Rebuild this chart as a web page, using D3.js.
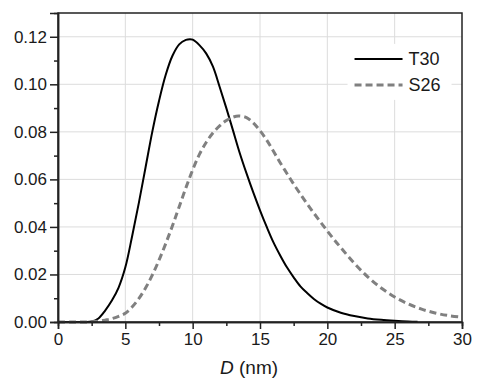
<!DOCTYPE html>
<meta charset="utf-8">
<script src="https://d3js.org/d3.v7.min.js"></script>
<style>
body { margin: 0; background: #fff; }
text { font-family: "Liberation Sans", Arial, Helvetica, sans-serif; fill: #1a1a1a; }
</style>
<div id="chart"></div>
<script>
// diameter (nm) and distribution values
const t30D = [0, 1, 2, 2.5, 3, 3.5, 4, 4.5, 5, 5.5, 6, 6.5, 7, 7.5, 8, 8.5, 9, 9.5, 9.8, 10, 10.5, 11, 11.5, 12, 12.5, 13, 13.5, 14, 14.5, 15, 15.5, 16, 16.5, 17, 17.5, 18, 18.5, 19, 19.5, 20, 21, 22, 23, 24, 25, 26, 26.7];
const t30V = [0, 0, 0, 0.0002, 0.0015, 0.0048, 0.009, 0.0145, 0.023, 0.036, 0.050, 0.065, 0.080, 0.093, 0.104, 0.112, 0.1168, 0.1187, 0.119, 0.1188, 0.1165, 0.113, 0.1075, 0.099, 0.090, 0.0805, 0.071, 0.0625, 0.0545, 0.047, 0.040, 0.0335, 0.028, 0.023, 0.0188, 0.015, 0.0122, 0.0097, 0.0077, 0.0061, 0.0039, 0.0025, 0.0015, 0.0009, 0.0005, 0.0002, 0.0001];

const s26D = [0, 1, 2, 3, 3.5, 4, 4.5, 5, 5.5, 6, 6.5, 7, 7.5, 8, 8.5, 9, 9.5, 10, 10.5, 11, 11.5, 12, 12.5, 13, 13.4, 14, 14.5, 15, 15.5, 16, 16.5, 17, 17.5, 18, 18.5, 19, 19.5, 20, 20.5, 21, 22, 23, 24, 25, 26, 27, 28, 29, 30];
const s26V = [0, 0, 0, 0.0003, 0.0008, 0.0014, 0.0024, 0.0037, 0.0063, 0.0098, 0.0143, 0.0197, 0.026, 0.033, 0.0405, 0.0485, 0.0565, 0.064, 0.0705, 0.0755, 0.0795, 0.0825, 0.0848, 0.0862, 0.0867, 0.086, 0.0838, 0.0805, 0.0765, 0.0718, 0.067, 0.0625, 0.058, 0.0538, 0.0497, 0.0458, 0.042, 0.0383, 0.0347, 0.0313, 0.0247, 0.019, 0.0143, 0.0105, 0.0076, 0.0054, 0.0038, 0.0027, 0.002];

const xTicks = [0, 5, 10, 15, 20, 25, 30];
const yTicks = [0, 0.02, 0.04, 0.06, 0.08, 0.10, 0.12];
const seriesNames = ["T30", "S26"];

const margin = {top: 13, right: 17, bottom: 61, left: 58},
    width = 479 - margin.left - margin.right,
    height = 383 - margin.top - margin.bottom;

const svg = d3.select("#chart")
  .append("svg")
    .attr("width", 479)
    .attr("height", 383)
  .append("g")
    .attr("transform", `translate(${margin.left},${margin.top})`);

const x = d3.scaleLinear().domain([0, 30]).range([0, width]);
const y = d3.scaleLinear().domain([0, 0.13]).range([height, 0]);

// grid
svg.append("g")
  .selectAll("line")
  .data(xTicks.slice(1, -1))
  .join("line")
    .attr("x1", d => x(d)).attr("x2", d => x(d))
    .attr("y1", 0).attr("y2", height)
    .attr("stroke", "#dcdcdc").attr("stroke-width", 1);
svg.append("g")
  .selectAll("line")
  .data(yTicks.slice(1))
  .join("line")
    .attr("x1", 0).attr("x2", width)
    .attr("y1", d => y(d)).attr("y2", d => y(d))
    .attr("stroke", "#dcdcdc").attr("stroke-width", 1);

// lines
const data = [
  {name: seriesNames[0], values: t30D.map((d, i) => ({d, v: t30V[i]}))},
  {name: seriesNames[1], values: s26D.map((d, i) => ({d, v: s26V[i]}))}
];
const line = d3.line()
  .x(d => x(d.d))
  .y(d => Math.min(y(d.v), height))
  .curve(d3.curveCatmullRom.alpha(0.5));

svg.selectAll("myLines")
  .data(data)
  .join("path")
    .attr("d", d => line(d.values))
    .attr("fill", "none")
    .attr("stroke", (d, i) => i === 0 ? "#000" : "#808080")
    .attr("stroke-width", (d, i) => i === 0 ? 2 : 3)
    .attr("stroke-dasharray", (d, i) => i === 0 ? null : "7,4");

// legend
const lg = svg.append("g").attr("transform", `translate(${x(21.5)},${y(0.117)})`);
lg.append("rect")
  .attr("x", 0).attr("y", 0)
  .attr("width", 104).attr("height", 56)
  .attr("fill", "#fff");
data.forEach((s, i) => {
  const yy = 15 + i * 26;
  lg.append("line")
    .attr("x1", 7).attr("x2", 55)
    .attr("y1", yy).attr("y2", yy)
    .attr("stroke", i === 0 ? "#000" : "#808080")
    .attr("stroke-width", i === 0 ? 2 : 3)
    .attr("stroke-dasharray", i === 0 ? null : "7,4");
  lg.append("text")
    .attr("x", 61).attr("y", yy)
    .attr("dy", "0.36em")
    .style("font-size", "18px")
    .text(s.name);
});

// frame
svg.append("rect")
  .attr("x", 0).attr("y", 0)
  .attr("width", width).attr("height", height)
  .attr("fill", "none")
  .attr("stroke", "#222")
  .attr("stroke-width", 1.5);

// axes
const xAxis = svg.append("g")
  .attr("transform", `translate(0,${height})`)
  .call(d3.axisBottom(x).tickValues(xTicks).tickSize(7).tickPadding(4).tickFormat(d3.format("d")));
const xMinor = svg.append("g")
  .attr("transform", `translate(0,${height})`)
  .call(d3.axisBottom(x).tickValues(d3.range(2.5, 30, 5)).tickSize(4).tickFormat(""));
const yAxis = svg.append("g")
  .call(d3.axisLeft(y).tickValues(yTicks).tickSize(8).tickPadding(3).tickFormat(d3.format(".2f")));
const yMinor = svg.append("g")
  .call(d3.axisLeft(y).tickValues(d3.range(0.01, 0.13, 0.02)).tickSize(4).tickFormat(""));

[xAxis, xMinor, yAxis, yMinor].forEach(g => {
  g.select(".domain").attr("stroke", "#222").attr("stroke-width", 1.5);
  g.selectAll(".tick line").attr("stroke", "#222").attr("stroke-width", 1.5);
  g.selectAll("text").style("font-size", "17px").attr("fill", "#1a1a1a").attr("font-family", null);
});

// x axis title
const title = svg.append("text")
  .attr("x", width / 2 - 11)
  .attr("y", height + 52)
  .attr("text-anchor", "middle")
  .style("font-size", "19px");
title.append("tspan").style("font-style", "italic").text("D");
title.append("tspan").text(" (nm)");
</script>
